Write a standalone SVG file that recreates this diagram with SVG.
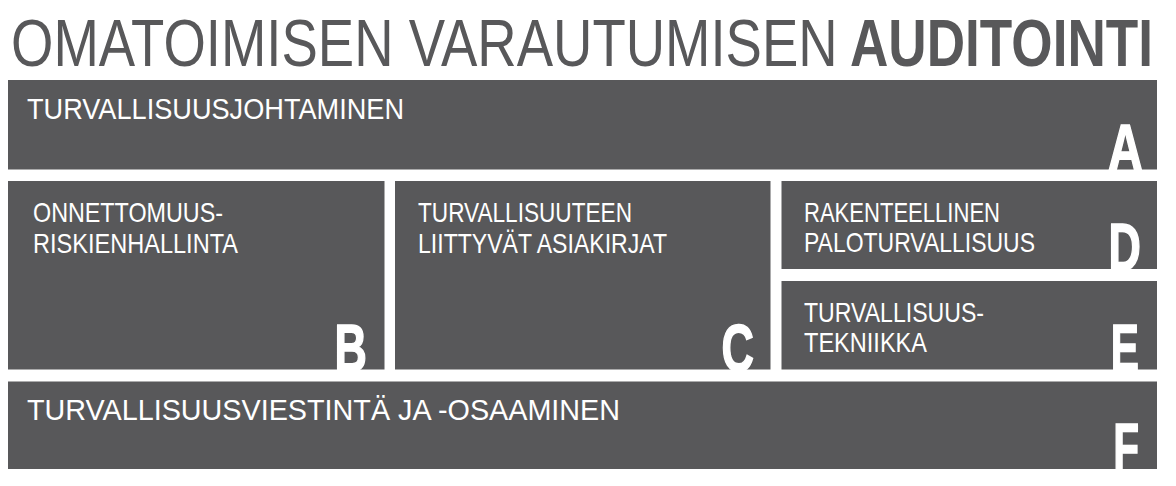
<svg xmlns="http://www.w3.org/2000/svg" width="1176" height="486" viewBox="0 0 1176 486">
<style>
.bg{fill:#ffffff}
.box{fill:#58585a}
.title{font-family:"Liberation Sans",Arial,sans-serif;font-size:66px;fill:#58585a}
.tb{font-weight:bold}
.lbl{font-family:"Liberation Sans",Arial,sans-serif;font-size:28px;fill:#ffffff}
.lbl-l{font-size:30px}
.big{font-family:"Liberation Sans",Arial,sans-serif;font-weight:bold;font-size:66px;fill:#ffffff;stroke:#ffffff;stroke-width:1.6px;text-anchor:end}
</style>
<rect class="bg" x="0" y="0" width="1176" height="486"/>
<g id="title">
<text class="title" transform="translate(11,66) scale(0.826,1)" x="0" y="0">OMATOIMISEN VARAUTUMISEN</text>
<text class="title tb" transform="translate(1153,66) scale(0.805,1)" x="0" y="0" text-anchor="end">AUDITOINTI</text>
</g>
<g id="node-A">
<rect class="box" x="8" y="80" width="1149" height="89.5"/>
<text class="lbl lbl-l" x="27" y="119" textLength="377" lengthAdjust="spacingAndGlyphs">TURVALLISUUSJOHTAMINEN</text>
<text class="big" transform="translate(1143,170.5) scale(0.74,1)">A</text>
</g>
<g id="node-B">
<rect class="box" x="8" y="181" width="376.5" height="188.5"/>
<text class="lbl" x="33" y="222" textLength="190" lengthAdjust="spacingAndGlyphs">ONNETTOMUUS-</text>
<text class="lbl" x="33" y="252.5" textLength="205" lengthAdjust="spacingAndGlyphs">RISKIENHALLINTA</text>
<text class="big" transform="translate(367,370.5) scale(0.68,1)">B</text>
</g>
<g id="node-C">
<rect class="box" x="395" y="181" width="375.5" height="188.5"/>
<text class="lbl" x="418" y="222" textLength="214" lengthAdjust="spacingAndGlyphs">TURVALLISUUTEEN</text>
<text class="lbl" x="418" y="252.5" textLength="249" lengthAdjust="spacingAndGlyphs">LIITTYVÄT ASIAKIRJAT</text>
<text class="big" transform="translate(754,370.5) scale(0.68,1)">C</text>
</g>
<g id="node-D">
<rect class="box" x="781.5" y="181" width="375.5" height="88"/>
<text class="lbl" x="804" y="222" textLength="196" lengthAdjust="spacingAndGlyphs">RAKENTEELLINEN</text>
<text class="lbl" x="804" y="252" textLength="231" lengthAdjust="spacingAndGlyphs">PALOTURVALLISUUS</text>
<text class="big" transform="translate(1141,270) scale(0.68,1)">D</text>
</g>
<g id="node-E">
<rect class="box" x="781.5" y="281" width="375.5" height="88.5"/>
<text class="lbl" x="804" y="322" textLength="180" lengthAdjust="spacingAndGlyphs">TURVALLISUUS-</text>
<text class="lbl" x="804" y="352" textLength="123" lengthAdjust="spacingAndGlyphs">TEKNIIKKA</text>
<text class="big" transform="translate(1139,370.5) scale(0.64,1)">E</text>
</g>
<g id="node-F">
<rect class="box" x="8" y="381.5" width="1149" height="87.5"/>
<text class="lbl lbl-l" x="27" y="420" textLength="593" lengthAdjust="spacingAndGlyphs">TURVALLISUUSVIESTINTÄ JA -OSAAMINEN</text>
<text class="big" transform="translate(1139,470) scale(0.64,1)">F</text>
</g>
</svg>
